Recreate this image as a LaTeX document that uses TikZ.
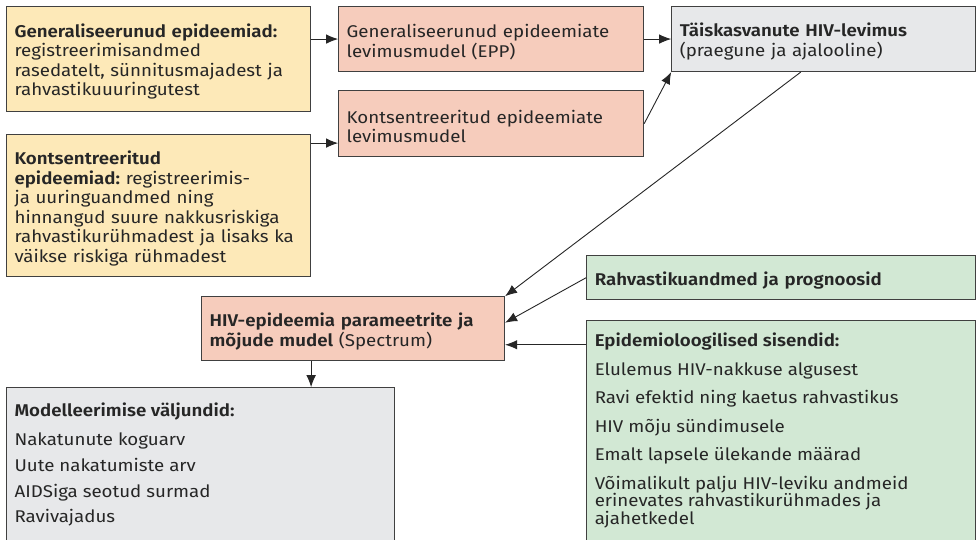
\documentclass[tikz,border=0pt]{standalone}
\usepackage{fontspec}
\setmainfont{Fira Sans}[FakeStretch=1.1, BoldFont={Fira Sans SemiBold}]
\frenchspacing
\usetikzlibrary{arrows.meta,positioning}
\definecolor{boxyellow}{HTML}{FDE9B8}
\definecolor{boxpink}{HTML}{F6CCBC}
\definecolor{boxgrey}{HTML}{E7E8EA}
\definecolor{boxgreen}{HTML}{D2E8D4}
\definecolor{edgegrey}{HTML}{404040}
\definecolor{inktext}{HTML}{262626}
\tikzset{
  box/.style={rectangle, draw=edgegrey, line width=1.1pt, align=left, inner xsep=8pt, text=inktext, font=\fontsize{17}{19.5}\selectfont, execute at begin node={\rule{0pt}{19pt}}},
  source/.style={box, fill=boxyellow, text width=288pt},
  model/.style={box, fill=boxpink, text width=289pt},
  result/.style={box, fill=boxgrey},
  input/.style={box, fill=boxgreen},
  flow/.style={-{Latex[length=12pt,width=9.5pt]}, draw=inktext, line width=0.9pt},
}

\begin{document}
\begin{tikzpicture}[x=1pt,y=1pt]
  \clip (0,0) rectangle (976,-540);
  \fill[white] (0,0) rectangle (976,-540);
  % data sources
  \node[source, minimum height=105pt, anchor=north west] (gen) at (6,-6) {\textbf{Generaliseerunud epideemiad:}\\registreerimisandmed\\rasedatelt, sünnitusmajadest ja\\rahvastikuuuringutest};
  \node[source, minimum height=142pt, below=22pt of gen.south west, anchor=north west] (kon) {\textbf{Kontsentreeritud}\\\textbf{epideemiad:} registreerimis-\\ja uuringuandmed ning\\hinnangud suure nakkusriskiga\\rahvastikurühmadest ja lisaks ka\\väikse riskiga rühmadest};
  % prevalence models
  \node[model, minimum height=65pt, right=27pt of gen.north east, anchor=north west] (genmod) {Generaliseerunud epideemiate\\levimusmudel (EPP)};
  \node[model, minimum height=66pt, below=18pt of genmod.south west, anchor=north west] (konmod) {Kontsentreeritud epideemiate\\levimusmudel};
  \node[result, text width=288pt, minimum height=65pt, right=27pt of genmod.north east, anchor=north west] (prev) {\textbf{Täiskasvanute HIV-levimus}\\(praegune ja ajalooline)};
  % Spectrum and its inputs
  \node[model, text width=287pt, minimum height=64pt, below right=19pt and 195pt of kon.south west] (spec) {\textbf{HIV-epideemia parameetrite ja}\\\textbf{mõjude mudel} (Spectrum)};
  \node[input, text width=373pt, minimum height=44pt, below=183pt of prev.south east, anchor=north east] (pop) {\textbf{Rahvastikuandmed ja prognoosid}};
  \node[input, inner ysep=7pt, below=20pt of pop.south west, anchor=north west] (epi) {\parbox[t][220pt][t]{373pt}{\raggedright
    \textbf{Epidemioloogilised sisendid:}\\[9pt]
    Elulemus HIV-nakkuse algusest\\[9pt]
    Ravi efektid ning kaetus rahvastikus\\[9pt]
    HIV mõju sündimusele\\[9pt]
    Emalt lapsele ülekande määrad\\[9pt]
    Võimalikult palju HIV-leviku andmeid\\[-2pt]
    erinevates rahvastikurühmades ja\\[-2pt]
    ajahetkedel}};
  \node[result, inner ysep=10pt, below=110pt of kon.south west, anchor=north west] (out) {\parbox[t][150pt][t]{372pt}{\raggedright
    \textbf{Modelleerimise väljundid:}\\[9pt]
    Nakatunute koguarv\\[7pt]
    Uute nakatumiste arv\\[6pt]
    AIDSiga seotud surmad\\[6pt]
    Ravivajadus}};
  % connectors
  \draw[flow] (gen.east |- genmod.west) -- (genmod.west);
  \draw[flow] ([yshift=-9pt]kon.north east) -- ([yshift=-9pt]kon.north east -| konmod.west);
  \draw[flow] (genmod.east) -- (genmod.east -| prev.west);
  \draw[flow] (konmod.east) -- (prev.south west);
  \draw[flow] ([xshift=-23pt]prev.south) -- (spec.north east);
  \draw[flow] (pop.west) -- ([yshift=6pt]spec.east);
  \draw[flow] ([yshift=-16pt]spec.east -| epi.west) -- ([yshift=-16pt]spec.east);
  \draw[flow] (spec.south -| gen.east) -- (out.north -| gen.east);
\end{tikzpicture}
\end{document}
